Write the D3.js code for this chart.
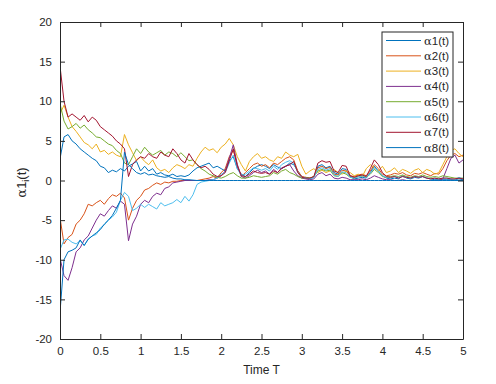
<!DOCTYPE html>
<html>
<head>
<meta charset="utf-8">
<script src="https://cdn.jsdelivr.net/npm/d3@7"></script>
<style>
body{margin:0;background:#fff;}
svg{display:block;font-family:"Liberation Sans",Arial,sans-serif;}
</style>
</head>
<body>
<svg id="chart" width="496" height="384"></svg>
<script>
// time: start point, tiny step, then 0.05 steps up to 5
let T = [0, 0.005].concat(d3.range(1, 101).map(i => i * 0.05));

let names = ["1", "2", "3", "4", "5", "6", "7", "8"];
let colors = ["#0072BD", "#D95319", "#EDB120", "#7E2F8E", "#77AC30", "#4DBEEE", "#A2142F", "#0072BD"];

let a1 = [0, 3.0,
  5.5, 5.8, 5.0, 4.6, 4.0, 3.6, 3.2, 2.8, 2.5, 1.8,
  1.6, 1.0, 1.3, 1.1, 1.5, 1.2, 1.8, 2.1, 2.4, 1.2,
  1.8, 1.2, 1.5, 0.8, 1.0, 0.7, 0.6, 0.8, 0.5, 0.6,
  0.5, 0.7, 1.2, 1.6, 1.8, 2.0, 2.2, 1.6, 1.8, 1.5,
  1.2, 2.5, 3.0, 1.5, 0.8, 0.5, 1.0, 1.5, 1.8, 2.0,
  1.8, 1.5, 2.0, 1.7, 1.5, 1.8, 2.2, 2.0, 1.2, 0.5,
  0.3, 0.2, 0.4, 1.8, 2.0, 1.6, 1.8, 1.0, 0.8, 1.5,
  1.4, 0.5, 0.2, 0.3, 0.4, 0.3, 1.0, 1.8, 1.2, 0.6,
  0.3, 0.2, 0.3, 0.2, 0.6, 0.3, 0.2, 0.4, 0.3, 0.5,
  0.3, 0.2, 0.1, 0.1, 0.1, 0.1, 0.1, 0.1, 0.2, 0.1];

let a2 = [0, -5.0,
  -8.0, -7.2, -6.8, -5.5, -5.0, -4.2, -3.0, -3.2, -2.8, -2.5,
  -3.0, -2.3, -1.8, -2.0, -1.6, -2.2, -5.0, -3.5, -2.5, -2.0,
  -1.2, -1.0, -0.6, -0.3, -0.5, -0.2, -0.3, -0.1, -0.1, 0.0,
  0.0, 0.0, 0.0, 0.0, 0.1, 0.2, 0.3, 0.5, 0.3, 1.0,
  1.5, 3.0, 3.8, 2.0, 0.5, 1.0, 1.5, 2.0, 2.2, 1.8,
  2.0, 1.6, 2.2, 2.0, 2.4, 2.8, 3.0, 2.6, 1.2, 0.5,
  0.4, 0.3, 0.5, 1.6, 1.8, 1.5, 1.7, 0.8, 0.7, 1.3,
  1.2, 0.6, 0.5, 0.7, 0.8, 0.6, 1.2, 2.0, 1.5, 0.8,
  0.6, 0.7, 0.9, 0.8, 1.0, 0.7, 0.6, 0.9, 0.8, 1.0,
  0.8, 0.6, 0.9, 0.8, 1.5, 2.5, 3.2, 3.4, 3.0, 3.2];

let a3 = [0, 8.5,
  9.5, 8.0, 6.8, 6.2, 5.5, 4.8, 4.5, 4.0, 4.6, 3.6,
  3.8, 3.3, 3.6, 3.2, 3.0, 5.8, 4.5, 3.5, 2.5, 3.0,
  2.4, 2.0, 2.6, 1.6, 1.2, 1.4, 1.0, 1.6, 2.0, 1.8,
  1.5, 2.0, 1.8, 2.8, 3.6, 4.2, 3.8, 4.0, 3.5, 4.2,
  4.6, 5.3, 4.5, 3.0, 2.0, 1.2, 2.4, 3.0, 3.4, 2.8,
  3.0, 2.6, 2.4, 3.0, 2.8, 3.6, 3.2, 3.0, 3.3, 1.8,
  0.8, 1.2, 1.5, 1.0, 1.3, 1.0, 1.2, 1.4, 1.0, 0.8,
  1.2, 1.0, 0.6, 0.8, 0.5, 1.5, 2.0, 1.6, 1.2, 1.8,
  1.0, 1.2, 1.6, 1.0, 1.4, 1.2, 0.9, 1.3, 1.5, 1.0,
  1.4, 1.2, 0.8, 1.0, 2.0, 3.0, 3.8, 4.0, 3.4, 3.0];

let a4 = [0, -10.0,
  -12.0, -12.6, -11.0, -9.0, -8.5, -7.5, -7.0, -6.0, -5.0, -4.2,
  -4.5, -3.8, -3.2, -3.5, -2.6, -3.0, -7.6, -5.5, -4.5, -3.0,
  -2.5, -2.8, -2.0, -1.6, -1.8, -1.0, -0.8, -0.3, -0.2, -0.1,
  0.0, 0.0, 0.0, 0.0, 0.0, 0.0, 0.1, 0.1, 0.3, 0.6,
  1.2, 2.8, 4.5, 2.0, 0.5, 0.3, 0.6, 1.0, 1.3, 1.0,
  1.2, 0.8, 1.4, 1.0, 1.6, 1.8, 2.0, 1.2, 0.6, 0.3,
  0.2, 0.1, 0.2, 0.8, 1.0, 0.6, 0.8, 0.3, 0.2, 0.4,
  0.3, 0.1, 0.1, 0.1, 0.2, 0.1, 0.3, 0.6, 0.4, 0.2,
  0.1, 0.1, 0.0, 0.0, 0.1, 0.0, 0.0, 0.0, 0.0, 0.0,
  0.0, 0.0, 0.0, 0.0, 0.2, 1.5, 2.8, 3.2, 2.2, 2.6];

let a5 = [0, 9.5,
  7.5, 6.5, 6.8, 7.2, 6.6, 7.0, 6.4, 6.0, 5.5, 5.4,
  5.0, 4.6, 4.4, 3.8, 3.4, 2.2, 2.0, 3.0, 4.0, 3.4,
  4.2, 3.6, 3.2, 3.5, 3.8, 3.2, 3.6, 3.4, 3.0, 3.5,
  3.0, 2.5, 2.6, 2.0, 1.5, 1.2, 0.8, 0.6, 0.4, 0.3,
  0.5, 0.8, 1.0, 0.6, 0.3, 0.3, 0.4, 0.6, 0.5, 0.4,
  0.5, 0.6, 1.0, 0.8, 1.2, 1.4, 1.0, 0.8, 0.5, 0.3,
  0.4, 0.3, 0.5, 1.2, 1.4, 1.2, 1.3, 0.6, 0.5, 1.0,
  0.8, 0.4, 0.3, 0.5, 0.6, 0.4, 0.8, 1.4, 1.0, 0.5,
  0.4, 0.5, 0.6, 0.5, 0.7, 0.5, 0.4, 0.6, 0.5, 0.7,
  0.5, 0.4, 0.5, 0.4, 0.6, 0.5, 0.4, 0.3, 0.3, 0.3];

let a6 = [0, -8.6,
  -7.5, -7.4, -7.8, -8.0, -7.6, -8.2, -7.4, -7.0, -6.8, -6.0,
  -5.6, -5.0, -4.6, -4.0, -2.5, -1.5, -2.0, -3.8, -3.5, -3.0,
  -3.4, -3.0, -3.3, -3.6, -2.8, -3.2, -3.0, -2.8, -2.4, -2.8,
  -2.0, -2.6, -1.8, -0.5, -0.2, -0.1, 0.0, 0.1, 0.3, 0.8,
  1.0, 2.2, 3.2, 1.5, 0.6, 0.8, 1.2, 1.6, 1.5, 1.3,
  1.5, 1.2, 1.8, 1.4, 2.0, 2.3, 2.5, 2.2, 1.0, 0.4,
  0.3, 0.2, 0.4, 1.4, 1.6, 1.3, 1.5, 0.7, 0.5, 1.1,
  1.0, 0.4, 0.3, 0.5, 0.6, 0.4, 0.9, 1.6, 1.2, 0.6,
  0.4, 0.3, 0.5, 0.4, 0.5, 0.4, 0.3, 0.5, 0.4, 0.5,
  0.3, 0.2, 0.3, 0.2, 0.3, 0.3, 0.2, 0.1, 0.4, 0.2];

let a7 = [0, 14.0,
  10.0, 8.0, 8.4, 8.0, 7.6, 8.2, 7.4, 8.0, 7.6, 6.8,
  6.4, 6.0, 5.6, 5.0, 4.6, 4.0, 0.5, 2.0, 2.6, 3.0,
  2.8, 3.4, 3.0, 2.8, 3.6, 3.2, 3.0, 4.0, 3.4, 2.6,
  2.2, 3.4, 2.6, 2.0, 1.6, 1.8, 1.4, 0.8, 0.5, 0.6,
  1.0, 2.5, 4.0, 1.8, 0.6, 0.5, 0.8, 1.2, 1.0, 0.9,
  1.0, 0.8, 1.2, 1.0, 1.5, 1.8, 2.0, 2.4, 1.0, 0.4,
  0.3, 0.3, 0.5, 2.2, 2.5, 2.3, 2.4, 1.2, 1.0, 1.9,
  1.8, 0.6, 0.4, 0.6, 0.7, 0.5, 1.5, 2.6, 2.0, 1.0,
  0.5, 0.4, 0.5, 0.3, 0.5, 0.4, 0.3, 0.5, 0.4, 0.5,
  0.3, 0.2, 0.3, 0.2, 0.3, 0.3, 0.2, 0.2, 0.3, 0.2];

let a8 = [0, -16.0,
  -10.0, -9.0, -8.8, -8.5, -7.5, -8.2, -7.4, -7.0, -6.6, -6.2,
  -5.5, -5.0, -4.4, -3.5, -2.5, 3.6, 2.0, 1.5, 1.0, 0.8,
  1.0, 0.7, 0.8, 0.6, 0.5, 0.4, 0.5, 0.3, 0.2, 0.2,
  0.1, 0.1, 0.05, 0, 0, 0, 0, 0, 0, 0,
  0, 0, 0, 0, 0, 0, 0, 0, 0, 0,
  0, 0, 0, 0, 0, 0, 0, 0, 0, 0,
  0, 0, 0, 0, 0, 0, 0, 0, 0, 0,
  0, 0, 0, 0, 0, 0, 0, 0, 0, 0,
  0, 0, 0, 0, 0, 0, 0, 0, 0, 0,
  0, 0, 0, 0, 0, 0, 0, 0, 0, 0];

let xTicks = [0, 0.5, 1, 1.5, 2, 2.5, 3, 3.5, 4, 4.5, 5];
let yTicks = [-20, -15, -10, -5, 0, 5, 10, 15, 20];

let allSeries = [a1, a2, a3, a4, a5, a6, a7, a8];

let svg = d3.select("#chart");
let mLeft = 60, mRight = 463, mTop = 22, mBottom = 339;

let x = d3.scaleLinear().domain([0, 5]).range([mLeft, mRight]);
let y = d3.scaleLinear().domain([-20, 20]).range([mBottom, mTop]);

let axisCol = "#262626";
let fnt = "11.5px 'Liberation Sans', Arial, sans-serif";

let line = d3.line().x((d, i) => x(T[i])).y(d => y(d));

let plot = svg.append("g");
plot.append("defs").append("clipPath").attr("id", "clip")
  .append("rect").attr("x", mLeft).attr("y", mTop).attr("width", mRight - mLeft).attr("height", mBottom - mTop);

plot.append("g").attr("clip-path", "url(#clip)")
  .selectAll("path")
  .data(allSeries)
  .enter()
  .append("path")
  .attr("d", line)
  .attr("fill", "none")
  .attr("stroke", (d, i) => colors[i])
  .attr("stroke-width", 1)
  .attr("stroke-linejoin", "round");

function styleAxis(g) {
  g.select(".domain").attr("stroke", axisCol).attr("stroke-width", 1);
  g.selectAll(".tick line").attr("stroke", axisCol).attr("stroke-width", 1);
  g.selectAll(".tick text").attr("fill", axisCol).style("font", fnt);
}

let fmt = d => String(d);

svg.append("g").attr("transform", "translate(0," + mBottom + ")")
  .call(d3.axisBottom(x).tickValues(xTicks).tickFormat(fmt).tickSizeInner(-5).tickSizeOuter(0).tickPadding(8))
  .call(styleAxis);
svg.append("g").attr("transform", "translate(0," + mTop + ")")
  .call(d3.axisTop(x).tickValues(xTicks).tickFormat("").tickSizeInner(-5).tickSizeOuter(0))
  .call(styleAxis);
svg.append("g").attr("transform", "translate(" + mLeft + ",0)")
  .call(d3.axisLeft(y).tickValues(yTicks).tickFormat(fmt).tickSizeInner(-5).tickSizeOuter(0).tickPadding(8))
  .call(styleAxis);
svg.append("g").attr("transform", "translate(" + mRight + ",0)")
  .call(d3.axisRight(y).tickValues(yTicks).tickFormat("").tickSizeInner(-5).tickSizeOuter(0))
  .call(styleAxis);

// x label
svg.append("text").attr("x", (mLeft + mRight) / 2).attr("y", 374)
  .attr("text-anchor", "middle").attr("fill", axisCol).style("font", "12px 'Liberation Sans', Arial, sans-serif").text("Time T");

// y label
let yl = svg.append("text").attr("transform", "translate(26," + ((mTop + mBottom) / 2 + 2) + ") rotate(-90)")
  .attr("text-anchor", "middle").attr("fill", axisCol).style("font", "13px 'Liberation Sans', Arial, sans-serif");
yl.append("tspan").style("font-family", "'DejaVu Serif', serif").text("α");
yl.append("tspan").text("1");
yl.append("tspan").attr("dy", 3).style("font-size", "9px").text("i");
yl.append("tspan").attr("dy", -3).text("(t)");

// legend
let lg = svg.append("g");
lg.append("rect").attr("x", 382).attr("y", 32).attr("width", 71).attr("height", 125)
  .attr("fill", "#fff").attr("stroke", axisCol).attr("stroke-width", 1);
let items = lg.selectAll("g.item").data(names).enter().append("g")
  .attr("transform", (d, i) => "translate(0," + (40.5 + i * 15.3) + ")");
items.append("line").attr("x1", 386).attr("x2", 421).attr("y1", 0).attr("y2", 0)
  .attr("stroke", (d, i) => colors[i]).attr("stroke-width", 1);
let lt = items.append("text").attr("x", 424).attr("y", 4).attr("fill", axisCol).style("font", fnt);
lt.append("tspan").style("font-family", "'DejaVu Serif', serif").text("α");
lt.append("tspan").text(d => d + "(t)");
</script>
</body>
</html>
